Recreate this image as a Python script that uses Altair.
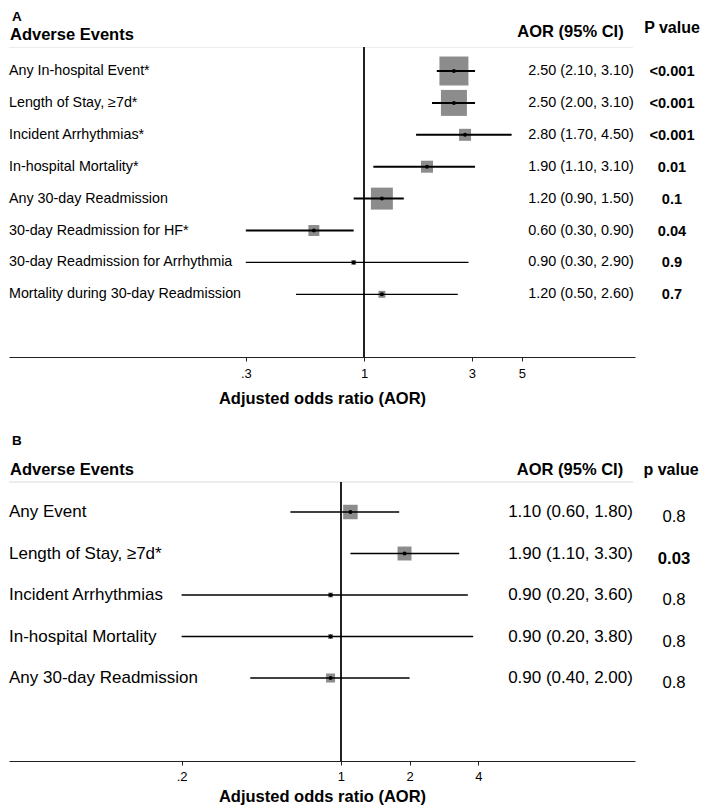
import altair as alt
import pandas as pd

# ---------------- Panel A data ----------------
events_a = ["Any In-hospital Event*", "Length of Stay, \u22657d*", "Incident Arrhythmias*",
            "In-hospital Mortality*", "Any 30-day Readmission", "30-day Readmission for HF*",
            "30-day Readmission for Arrhythmia", "Mortality during 30-day Readmission"]
aor_a = [2.50, 2.50, 2.80, 1.90, 1.20, 0.60, 0.90, 1.20]
lo_a = [2.10, 2.00, 1.70, 1.10, 0.90, 0.30, 0.30, 0.50]
hi_a = [3.10, 3.10, 4.50, 3.10, 1.50, 0.90, 2.90, 2.60]
p_a = ["<0.001", "<0.001", "<0.001", "0.01", "0.1", "0.04", "0.9", "0.7"]
weight_a = [28.0, 22.5, 4.8, 4.8, 16.1, 4.0, 0.8, 1.6]
ticks_a = [0.3, 1, 3, 5]
ticklabels_a = [".3", "1", "3", "5"]

# ---------------- Panel B data ----------------
events_b = ["Any Event", "Length of Stay, \u22657d*", "Incident Arrhythmias",
            "In-hospital Mortality", "Any 30-day Readmission"]
aor_b = [1.10, 1.90, 0.90, 0.90, 0.90]
lo_b = [0.60, 1.10, 0.20, 0.20, 0.40]
hi_b = [1.80, 3.30, 3.60, 3.80, 2.00]
p_b = ["0.8", "0.03", "0.8", "0.8", "0.8"]
weight_b = [7.0, 6.5, 0.8, 0.8, 2.7]
ticks_b = [0.2, 1, 2, 4]
ticklabels_b = [".2", "1", "2", "4"]

FONT = "Liberation Sans"
BOX = "#8c8c8c"


def make_df(events, aor, lo, hi, p, w):
    return pd.DataFrame({
        "row": list(range(len(events))),
        "event": events,
        "aor": aor, "lo": lo, "hi": hi,
        "p": p, "weight": w,
        "pnum": [float(s.replace("<", "")) for s in p],
        "ci": [f"{a:.2f} ({l:.2f}, {h:.2f})" for a, l, h in zip(aor, lo, hi)],
    })


def label_expr(ticks, labels):
    parts = [f"datum.value == {v} ? '{l}'" for v, l in zip(ticks, labels)]
    return " : ".join(parts) + " : datum.label"


def panel(letter, df, ticks, ticklabels, xdom, ydom, W, H, g):
    xs = alt.Scale(type="log", domain=xdom, nice=False, zero=False)
    ys = alt.Scale(domain=ydom, reverse=True, nice=False, zero=False)
    axis = alt.Axis(values=ticks, labelExpr=label_expr(ticks, ticklabels),
                    title="Adjusted odds ratio (AOR)", grid=False,
                    domainColor="#222", tickColor="#222", tickSize=4,
                    labelFont=FONT, labelFontSize=13, labelColor="black",
                    labelPadding=g["lab_pad"], labelFlush=False,
                    titleFont=FONT, titleFontSize=16.5, titleFontWeight="bold",
                    titleColor="black", titlePadding=g["title_pad"])
    base = alt.Chart(df)
    y = alt.Y("row:Q", scale=ys, axis=None)

    faint = base.mark_rule(color="#ececec", strokeWidth=1).encode(
        x=alt.value(0), x2=alt.value(W - 2), y=alt.value(g["hdr_line"]))
    vline = base.mark_rule(color="#222", strokeWidth=1.3).encode(
        x=alt.datum(1), y=alt.value(g["hdr_line"]), y2=alt.value(H))
    boxes = base.mark_square(color=BOX, opacity=1).encode(
        x=alt.X("aor:Q", scale=xs, axis=axis), y=y,
        size=alt.Size("weight:Q", scale=alt.Scale(domain=[0, 30], range=[0, 900]), legend=None))
    ci = base.mark_rule(color="black").encode(
        x=alt.X("lo:Q", scale=xs), x2="hi:Q", y=y,
        strokeWidth=alt.condition(alt.datum.weight > g["thick_w"], alt.value(g["thick"]), alt.value(g["thin"])))
    dots = base.mark_circle(color="black", size=16, opacity=1).encode(
        x=alt.X("aor:Q", scale=xs), y=y)

    lab = base.mark_text(align="left", baseline="middle", font=FONT,
                         fontSize=g["row_fs"], color="black").encode(
        x=alt.value(0), y=y, text="event:N")
    cit = base.mark_text(align="center", baseline="middle", font=FONT,
                         fontSize=g["ci_fs"], color="black").encode(
        x=alt.value(g["ci_x"]), y=y, text="ci:N")
    bold_test = "true" if g["p_all_bold"] else "datum.pnum < 0.05"
    p_bold = base.transform_filter(bold_test).mark_text(
        align="center", baseline="middle", font=FONT, fontWeight="bold",
        fontSize=g["p_fs"], color="black", dy=g["p_dy"]).encode(
        x=alt.value(g["p_x"]), y=y, text="p:N")
    p_norm = base.transform_filter(f"!({bold_test})").mark_text(
        align="center", baseline="middle", font=FONT, fontWeight="normal",
        fontSize=g["p_fs"], color="black", dy=g["p_dy"]).encode(
        x=alt.value(g["p_x"]), y=y, text="p:N")

    hdr = pd.DataFrame({"t": [letter]})
    hb = alt.Chart(hdr)
    t_letter = hb.mark_text(align="left", baseline="middle", font=FONT, fontWeight="bold",
                            fontSize=13.5, color="black").encode(
        x=alt.value(3), y=alt.value(g["letter_y"]), text="t:N")
    t_ae = hb.mark_text(align="left", baseline="middle", font=FONT, fontWeight="bold",
                        fontSize=16.5, color="black", text="Adverse Events").encode(
        x=alt.value(1), y=alt.value(g["hdr_y"]))
    t_aor = hb.mark_text(align="center", baseline="middle", font=FONT, fontWeight="bold",
                         fontSize=16.5, color="black", text="AOR (95% CI)").encode(
        x=alt.value(g["aorh_x"]), y=alt.value(g["aorh_y"]))
    t_p = hb.mark_text(align="center", baseline="middle", font=FONT, fontWeight="bold",
                       fontSize=16, color="black", text=g["p_title"]).encode(
        x=alt.value(g["ph_x"]), y=alt.value(g["ph_y"]))

    return alt.layer(faint, vline, boxes, ci, dots, lab, cit, p_bold, p_norm,
                     t_letter, t_ae, t_aor, t_p).properties(width=W, height=H)


df_a = make_df(events_a, aor_a, lo_a, hi_a, p_a, weight_a)
df_b = make_df(events_b, aor_b, lo_b, hi_b, p_b, weight_b)

geo_a = dict(hdr_line=39.5, thick_w=3, thick=2, thin=1.2, row_fs=14.3, ci_fs=14.4,
             ci_x=572, p_fs=14.6, p_x=663, p_dy=1, p_all_bold=True,
             letter_y=9, hdr_y=26.5, aorh_x=561.5, aorh_y=24,
             ph_x=663, ph_y=20, p_title="P value", lab_pad=6, title_pad=10)
geo_b = dict(hdr_line=50, thick_w=100, thick=1.8, thin=1.3, row_fs=17, ci_fs=17,
             ci_x=561.5, p_fs=16.7, p_x=665, p_dy=5, p_all_bold=False,
             letter_y=9, hdr_y=38, aorh_x=561, aorh_y=38,
             ph_x=662, ph_y=38, p_title="p value", lab_pad=5, title_pad=5)

chart_a = panel("A", df_a, ticks_a, ticklabels_a, [0.02686, 15.82], [-1.975, 8.965], 626, 349, geo_a)
chart_b = panel("B", df_b, ticks_b, ticklabels_b, [0.03499, 19.48], [-1.928, 6.0], 626, 329, geo_b)

chart = (alt.vconcat(chart_a, chart_b, spacing=25)
         .properties(padding=0)
         .configure(font=FONT)
         .configure_view(strokeWidth=0, stroke="transparent"))

chart.save("out.html", embed_options={"renderer": "svg", "actions": False})
